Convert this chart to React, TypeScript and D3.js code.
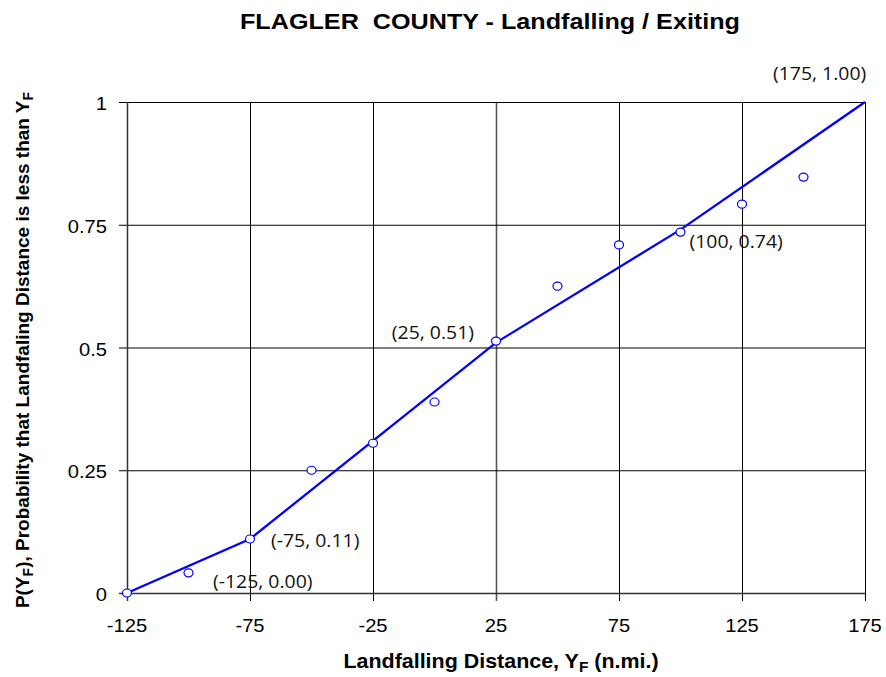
import * as d3 from 'd3';
import { useEffect, useRef } from 'react';

const observedX = [-125, -100, -75, -50, -25, 0, 25, 50, 75, 100, 125, 150];
const observedP = [0, 0.041, 0.11, 0.25, 0.305, 0.389, 0.513, 0.625, 0.709, 0.735, 0.792, 0.847];

const fitX = [-125, -75, 25, 100, 175];
const fitP = [0, 0.11, 0.51, 0.74, 1.0];
const fitLabels = ['(-125, 0.00)', '(-75, 0.11)', '(25, 0.51)', '(100, 0.74)', '(175, 1.00)'];

const xTicks = [-125, -75, -25, 25, 75, 125, 175];
const yTicks = [0, 0.25, 0.5, 0.75, 1];
const yTickLabels = ['0', '0.25', '0.5', '0.75', '1'];

// label offsets relative to the fitted point (px)
const labelOffsets: [number, number, string][] = [
  [86, -11, 'start'],
  [21, 2, 'start'],
  [-22, -10, 'end'],
  [9, 12, 'start'],
  [-92, -28, 'start'],
];

const ARIAL = '"Liberation Sans", Arial, sans-serif';

export default function App() {
  const ref = useRef<SVGSVGElement>(null);

  useEffect(() => {
    const width = 886;
    const height = 677;
    const left = 127, right = 865, top = 102, bottom = 593;

    const svg = d3.select(ref.current);
    svg.selectAll('*').remove();
    svg.attr('width', width).attr('height', height);

    const x = d3.scaleLinear().domain([-125, 175]).range([left, right]);
    const y = d3.scaleLinear().domain([0, 1]).range([bottom, top]);

    /* ---------- GRID ---------- */
    const g = svg.append('g');
    g.selectAll('.vgrid')
      .data(xTicks.slice(1))
      .enter()
      .append('line')
      .attr('x1', d => x(d) + 0.5)
      .attr('x2', d => x(d) + 0.5)
      .attr('y1', top)
      .attr('y2', bottom + 8)
      .attr('stroke', d => (d === 25 ? '#555' : '#000'))
      .attr('stroke-width', d => (d === 25 ? 1.6 : 1));
    g.selectAll('.hgrid')
      .data(yTicks.slice(1))
      .enter()
      .append('line')
      .attr('x1', left - 8)
      .attr('x2', right)
      .attr('y1', d => y(d) + 0.5)
      .attr('y2', d => y(d) + 0.5)
      .attr('stroke', '#000')
      .attr('stroke-width', 1);

    /* ---------- AXES ---------- */
    g.append('line')
      .attr('x1', left + 0.5).attr('x2', left + 0.5)
      .attr('y1', top).attr('y2', bottom + 8)
      .attr('stroke', '#333').attr('stroke-width', 1.5);
    g.append('line')
      .attr('x1', left - 8).attr('x2', right)
      .attr('y1', bottom + 0.5).attr('y2', bottom + 0.5)
      .attr('stroke', '#333').attr('stroke-width', 1.5);

    /* ---------- TICK LABELS ---------- */
    g.selectAll('.xt')
      .data(xTicks)
      .enter()
      .append('text')
      .attr('transform', d => `translate(${x(d)},${bottom + 39}) scale(1.12,1)`)
      .attr('text-anchor', 'middle')
      .style('font-family', ARIAL)
      .style('font-size', '18px')
      .text(d => String(d));
    g.selectAll('.yt')
      .data(yTicks)
      .enter()
      .append('text')
      .attr('transform', d => `translate(${left - 20},${y(d) + 8}) scale(1.12,1)`)
      .attr('text-anchor', 'end')
      .style('font-family', ARIAL)
      .style('font-size', '18px')
      .text((d, i) => yTickLabels[i]);

    /* ---------- FIT LINE ---------- */
    const line = d3.line<number>().x((d, i) => x(fitX[i])).y(d => y(d));
    g.append('path')
      .attr('d', line(fitP))
      .attr('fill', 'none')
      .attr('stroke', '#0000FF')
      .attr('stroke-width', 2.3);

    /* ---------- OBSERVED POINTS ---------- */
    g.selectAll('.pt')
      .data(observedP)
      .enter()
      .append('ellipse')
      .attr('cx', (d, i) => x(observedX[i]))
      .attr('cy', d => y(d))
      .attr('rx', 4.5)
      .attr('ry', 4)
      .attr('fill', '#fff')
      .attr('stroke', '#0000FF')
      .attr('stroke-width', 1.2);

    /* ---------- POINT LABELS ---------- */
    g.selectAll('.fl')
      .data(fitP)
      .enter()
      .append('text')
      .attr('transform', (d, i) =>
        `translate(${x(fitX[i]) + labelOffsets[i][0]},${y(d) + labelOffsets[i][1] + 6}) scale(1.08,1)`)
      .attr('text-anchor', (d, i) => labelOffsets[i][2])
      .style('font-family', '"Open Sans", "Noto Sans", sans-serif')
      .style('font-size', '18px')
      .style('fill', '#111')
      .text((d, i) => fitLabels[i]);

    /* ---------- TITLES ---------- */
    svg.append('text')
      .attr('x', 490)
      .attr('y', 29)
      .attr('text-anchor', 'middle')
      .attr('textLength', 500)
      .attr('lengthAdjust', 'spacingAndGlyphs')
      .style('font-family', ARIAL)
      .style('font-size', '22px')
      .style('font-weight', 'bold')
      .style('white-space', 'pre')
      .text('FLAGLER  COUNTY - Landfalling / Exiting');

    const xl = svg.append('text')
      .attr('transform', 'translate(501,668) scale(1.1,1)')
      .attr('text-anchor', 'middle')
      .style('font-family', ARIAL)
      .style('font-size', '19.5px')
      .style('font-weight', 'bold');
    xl.append('tspan').text('Landfalling Distance, Y');
    xl.append('tspan').attr('dy', 4).style('font-size', '14px').text('F');
    xl.append('tspan').attr('dy', -4).text(' (n.mi.)');

    const yl = svg.append('text')
      .attr('transform', 'translate(29,350) rotate(-90)')
      .attr('text-anchor', 'middle')
      .style('font-family', ARIAL)
      .style('font-size', '19px')
      .style('font-weight', 'bold');
    yl.append('tspan').text('P(Y');
    yl.append('tspan').attr('dy', 4).style('font-size', '14px').text('F');
    yl.append('tspan').attr('dy', -4).text('), Probability that Landfaling Distance is less than Y');
    yl.append('tspan').attr('dy', 4).style('font-size', '14px').text('F');
  }, []);

  return <svg ref={ref} style={{ position: 'absolute', left: 0, top: 0 }} />;
}
